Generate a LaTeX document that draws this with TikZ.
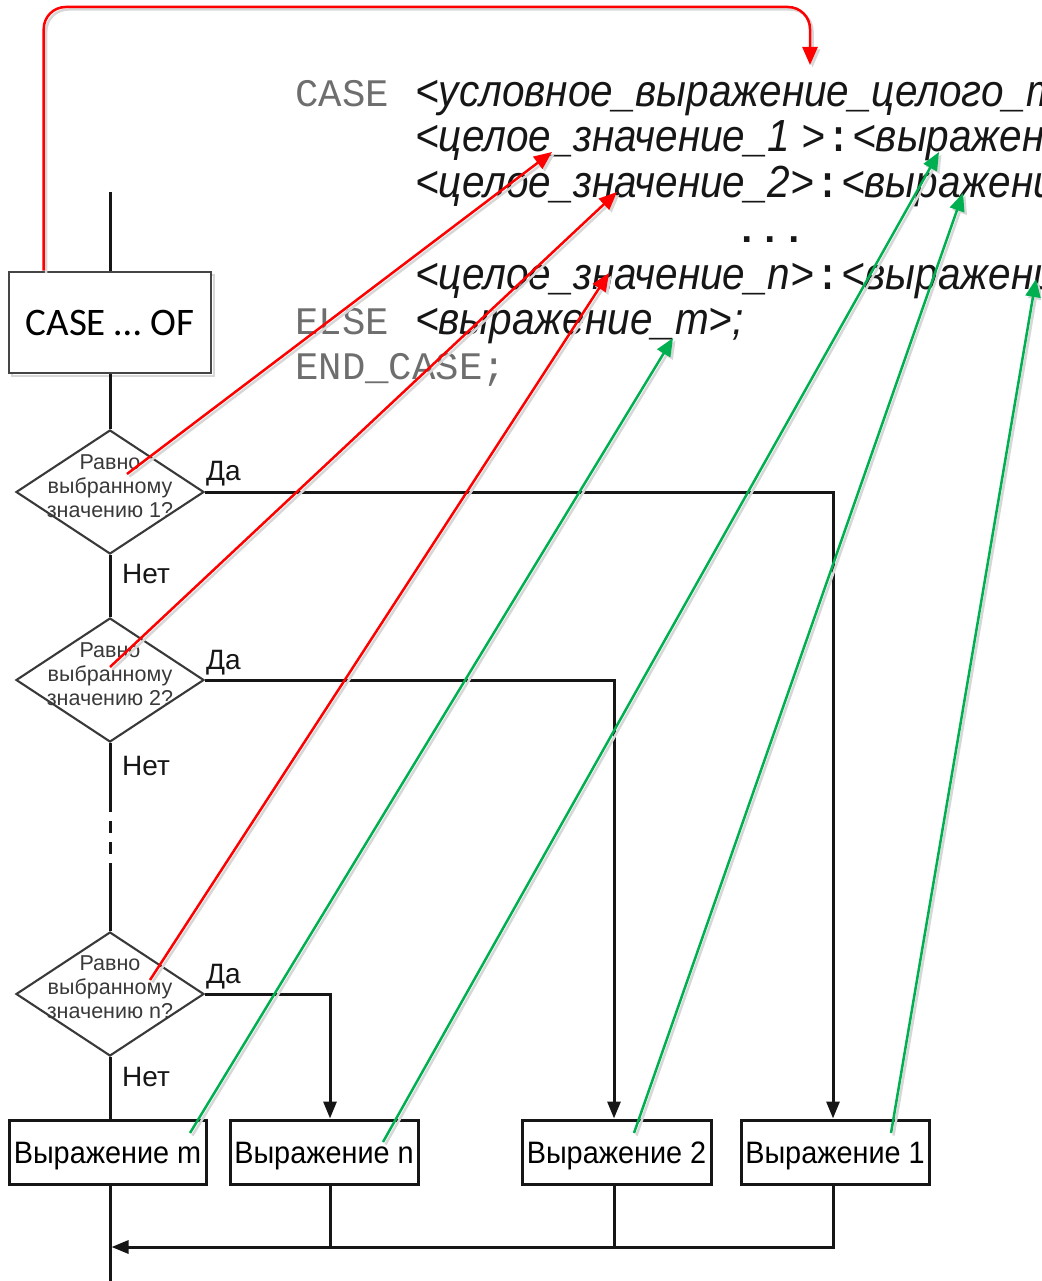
\documentclass[tikz,border=0pt]{standalone}
\usepackage{fontspec}
\setmainfont{Liberation Sans}
\newfontfamily\codesans[FakeStretch=0.9]{Liberation Sans}
\newfontfamily\codemono{Liberation Mono}
\newfontfamily\boxfont{Carlito}
\newfontfamily\flowfont[FakeStretch=0.93]{Liberation Sans}
\usetikzlibrary{arrows.meta,calc,shapes.geometric}

\definecolor{linkred}{RGB}{255,0,0}
\definecolor{linkgreen}{RGB}{0,176,80}
\definecolor{codegrey}{RGB}{110,110,110}
\definecolor{ink}{RGB}{22,22,22}
\definecolor{shadowgrey}{RGB}{215,215,215}

\tikzset{
  flow/.style={draw=ink, line width=3pt},
  flowarrow/.style={flow, -{Triangle[length=17pt,width=13pt]}},
  link/.style={line width=2.5pt, -{Triangle[length=18pt,width=15pt]},
    preaction={draw=shadowgrey, line width=2.5pt,
      transform canvas={shift={(2.5pt,-2.5pt)}}}},
  redlink/.style={link, draw=linkred},
  greenlink/.style={link, draw=linkgreen},
  codeline/.style={anchor=base west, inner sep=0pt, text=ink,
    font=\codesans\itshape\fontsize{45pt}{45pt}\selectfont},
  monoline/.style={anchor=base west, inner sep=0pt, text=codegrey,
    font=\codemono\fontsize{39pt}{39pt}\selectfont},
  casebox/.style={draw=ink!80, line width=2.6pt, fill=white,
    minimum width=202pt, minimum height=101pt, inner sep=0pt,
    font=\boxfont\fontsize{39pt}{39pt}\selectfont,
    preaction={draw=shadowgrey, line width=2.6pt,
      transform canvas={shift={(3pt,-3pt)}}}},
  decision/.style={diamond, draw=ink!85, line width=2.1pt,
    minimum width=188pt, minimum height=124pt, inner sep=0pt},
  dtext/.style={align=center, inner sep=0pt, text=ink!85,
    font=\fontsize{21.5pt}{24pt}\selectfont},
  answer/.style={anchor=base west, inner sep=0pt, text=ink,
    font=\fontsize{28pt}{28pt}\selectfont},
  exprbox/.style={draw=ink, line width=3pt, minimum height=64pt,
    inner sep=0pt, text height=22pt, text depth=0pt,
    font=\flowfont\fontsize{31pt}{31pt}\selectfont},
}

\begin{document}
\begin{tikzpicture}[x=1pt,y=-1pt]
\useasboundingbox (0,0) rectangle (1041,1281);
\clip (0,0) rectangle (1041,1281);

% ---- CASE statement listing ----
\node[monoline] (kwcase) at (295,107) {CASE};
\node[codeline] (cond) at (415,107) {<условное\_выражение\_целого\_типа> OF};
\node[codeline] (alt1) at (415,152) {<целое\_значение\_1 >{\codemono\upshape :}<выражение\_1>;};
\node[codeline] (alt2) at (415,198) {<целое\_значение\_2>{\codemono\upshape :}<выражение\_2>;};
\node[monoline, text=ink, font=\codemono\bfseries\fontsize{39pt}{39pt}\selectfont] (dots) at (735,243) {...};
\node[codeline] (altn) at (415,289) {<целое\_значение\_n>{\codemono\upshape :}<выражение\_n>;};
\node[monoline] (kwelse) at (295,334) {ELSE};
\node[codeline] (altm) at (415,334) {<выражение\_m>;};
\node[monoline] (kwend) at (295,379) {END\_CASE;};

% ---- flowchart ----
\coordinate (entry) at (110,192);
\node[casebox] (case) at (110,322.5) {CASE … OF};

\node[decision] (d1) at (110,492) {};
\node[dtext] (d1t) at (110,486) {Равно\\выбранному\\значению 1?};
\node[decision] (d2) at (110,680) {};
\node[dtext] (d2t) at (110,674) {Равно\\выбранному\\значению 2?};
\node[decision] (d3) at (110,994) {};
\node[dtext] (d3t) at (110,987) {Равно\\выбранному\\значению n?};

\node[answer] (yes1) at (206,480) {Да};
\node[answer] (yes2) at (206,669) {Да};
\node[answer] (yes3) at (206,983) {Да};
\node[answer] (no1) at (122,583) {Нет};
\node[answer] (no2) at (122,775) {Нет};
\node[answer] (no3) at (122,1086) {Нет};

\node[exprbox, minimum width=197pt] (bm) at (107.5,1152) {Выражение m};
\node[exprbox, minimum width=188pt] (bn) at (324,1152) {Выражение n};
\node[exprbox, minimum width=189pt] (b2) at (616.5,1152) {Выражение 2};
\node[exprbox, minimum width=188pt] (b1) at (835,1152) {Выражение 1};

% connection points on the expression boxes
\coordinate (bmIn)  at ($(bm.north)+(2.5,0)$);
\coordinate (bmOut) at ($(bm.south)+(2.5,0)$);
\coordinate (bnIn)  at ($(bn.north)+(6,0)$);
\coordinate (bnOut) at ($(bn.south)+(6,0)$);
\coordinate (b2In)  at ($(b2.north)+(-2.5,0)$);
\coordinate (b2Out) at ($(b2.south)+(-2.5,0)$);
\coordinate (b1In)  at ($(b1.north)+(-2,0)$);
\coordinate (b1Out) at ($(b1.south)+(-2,0)$);

\coordinate (gapA) at (110,800);
\coordinate (gapB) at (110,868);
\coordinate (merge) at (111.5,1247);
\coordinate (exit) at (110,1281);

% main spine
\draw[flow] (entry) -- (case.north);
\draw[flow] (case.south) -- (d1.north);
\draw[flow] (d1.south) -- (d2.north);
\draw[flow] (d2.south) -- (gapA);
\draw[flow, dash pattern=on 12pt off 9pt] (gapA) -- (gapB);
\draw[flow] (gapB) -- (d3.north);
\draw[flow] (d3.south) -- (bmIn);

% "yes" branches
\draw[flowarrow] (d1.east) -| (b1In);
\draw[flowarrow] (d2.east) -| (b2In);
\draw[flowarrow] (d3.east) -| (bnIn);

% merging of the branches
\draw[flowarrow] (b1Out) |- (merge);
\draw[flow] (b2Out) -- (b2Out |- merge);
\draw[flow] (bnOut) -- (bnOut |- merge);
\draw[flow] (bmOut) -- (exit);

% ---- links between flowchart and listing ----
\coordinate (loopTop) at (810,7);
\coordinate (loopEnd) at (810,65);
\draw[redlink, rounded corners=22pt] ($(case.north west)+(36,0)$) |- (loopTop) -- (loopEnd);

\coordinate (r1s) at (127,474);  \coordinate (r1e) at (552,152);
\coordinate (r2s) at (110,667);  \coordinate (r2e) at (617,192);
\coordinate (r3s) at (150,980);  \coordinate (r3e) at (609,273);
\draw[redlink] (r1s) -- (r1e);
\draw[redlink] (r2s) -- (r2e);
\draw[redlink] (r3s) -- (r3e);

\coordinate (g1s) at (190,1133); \coordinate (g1e) at (673,338);
\coordinate (g2s) at (383,1142); \coordinate (g2e) at (939,152);
\coordinate (g3s) at (634,1133); \coordinate (g3e) at (963,193);
\coordinate (g4s) at (891,1133); \coordinate (g4e) at (1036,279);
\draw[greenlink] (g1s) -- (g1e);
\draw[greenlink] (g2s) -- (g2e);
\draw[greenlink] (g3s) -- (g3e);
\draw[greenlink] (g4s) -- (g4e);
\end{tikzpicture}
\end{document}
